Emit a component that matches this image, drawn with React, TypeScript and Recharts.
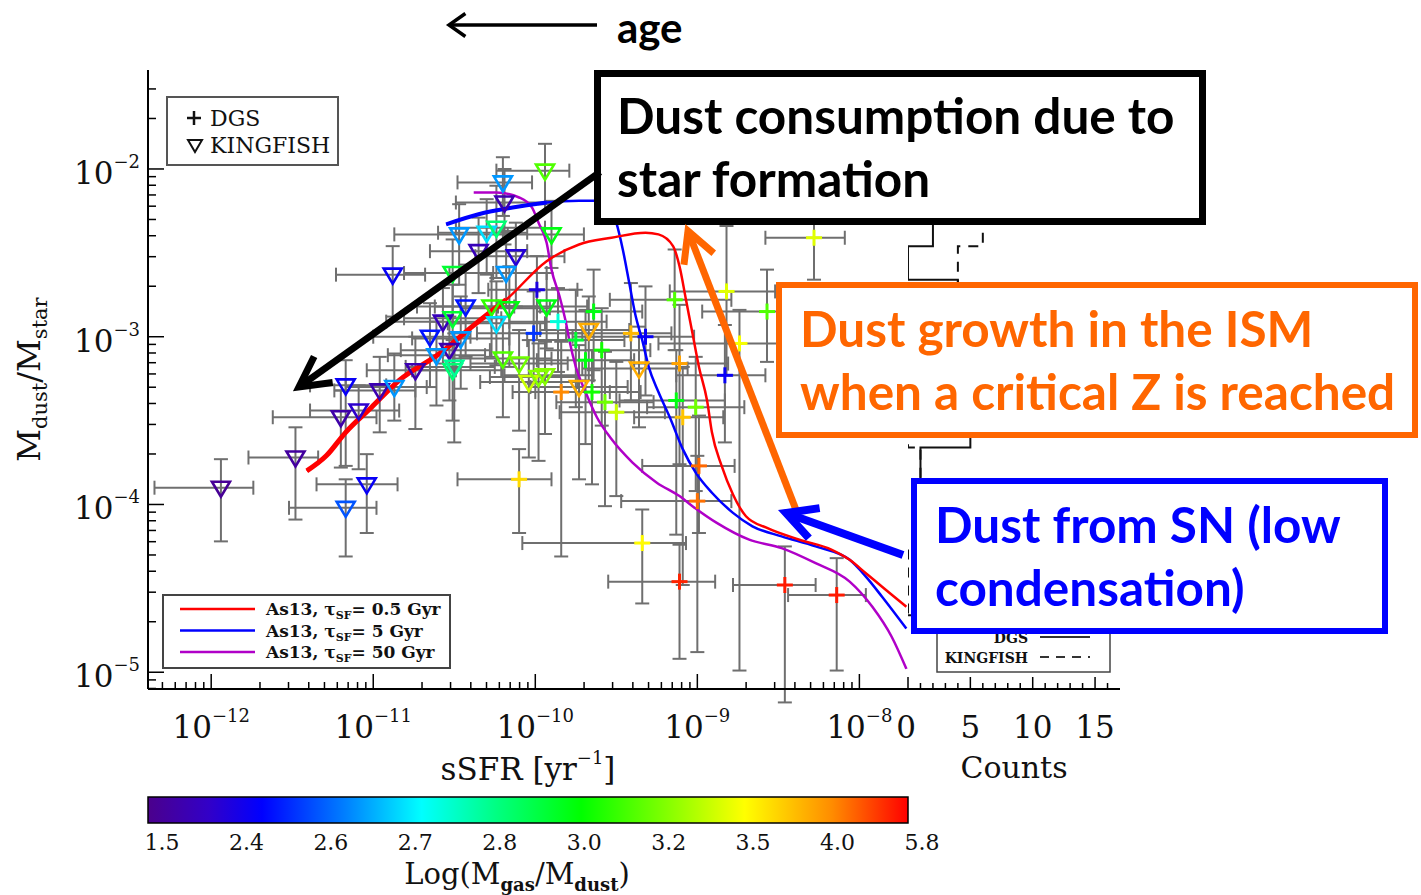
import React from 'react';
import { ComposedChart, Scatter, Line, XAxis, YAxis, ErrorBar, ReferenceArea } from 'recharts';

// axes are in log10 units: x = log sSFR [yr^-1], y = log Mdust/Mstar
const X_DOMAIN: [number, number] = [-12.39, -7.7];
const Y_DOMAIN: [number, number] = [-5.1, -1.41];

// [log sSFR, log Mdust/Mstar, log Mgas/Mdust, -dx, +dx, -dy, +dy]
const KINGFISH = [
  [-11.94, -3.9, 1.6, 0.41, 0.2, 0.32, 0.17],
  [-11.48, -3.72, 1.7, 0.29, 0.14, 0.37, 0.18],
  [-11.2, -3.48, 1.8, 0.42, 0.22, 0.3, 0.16],
  [-11.09, -3.44, 2.2, 0.3, 0.25, 0.35, 0.15],
  [-11.17, -3.29, 2.45, 0.22, 0.25, 0.48, 0.15],
  [-10.96, -3.32, 1.9, 0.28, 0.22, 0.25, 0.2],
  [-10.87, -3.3, 2.65, 0.3, 0.2, 0.2, 0.2],
  [-11.04, -3.88, 2.45, 0.31, 0.19, 0.29, 0.18],
  [-11.17, -4.02, 2.6, 0.35, 0.19, 0.29, 0.17],
  [-10.74, -3.2, 1.9, 0.3, 0.25, 0.35, 0.2],
  [-10.51, -3.2, 2.85, 0.25, 0.3, 0.3, 0.18],
  [-10.2, -2.08, 2.65, 0.28, 0.18, 0.2, 0.15],
  [-9.94, -2.01, 3.15, 0.3, 0.15, 0.2, 0.16],
  [-10.47, -2.39, 2.65, 0.4, 0.3, 0.3, 0.18],
  [-10.3, -2.38, 2.7, 0.3, 0.25, 0.25, 0.2],
  [-10.24, -2.35, 2.85, 0.25, 0.3, 0.3, 0.25],
  [-9.9, -2.39, 3.0, 0.3, 0.2, 0.2, 0.2],
  [-10.88, -2.63, 2.45, 0.35, 0.2, 0.25, 0.17],
  [-10.35, -2.49, 2.0, 0.3, 0.3, 0.25, 0.2],
  [-10.12, -2.52, 2.3, 0.25, 0.3, 0.3, 0.2],
  [-10.18, -2.62, 2.65, 0.35, 0.25, 0.2, 0.25],
  [-10.51, -2.62, 2.95, 0.3, 0.25, 0.3, 0.2],
  [-9.93, -2.82, 3.0, 0.3, 0.25, 0.25, 0.2],
  [-10.27, -2.82, 3.1, 0.35, 0.3, 0.3, 0.2],
  [-10.16, -2.83, 3.0, 0.3, 0.25, 0.35, 0.25],
  [-9.67, -2.96, 3.9, 0.3, 0.25, 0.3, 0.2],
  [-10.57, -2.91, 2.0, 0.35, 0.3, 0.25, 0.2],
  [-10.51, -2.89, 2.95, 0.3, 0.3, 0.3, 0.2],
  [-10.43, -2.82, 2.5, 0.3, 0.3, 0.3, 0.25],
  [-10.65, -3.0, 2.5, 0.35, 0.25, 0.3, 0.2],
  [-10.46, -3.01, 2.65, 0.3, 0.3, 0.3, 0.25],
  [-10.24, -2.92, 2.7, 0.3, 0.3, 0.25, 0.25],
  [-10.53, -3.08, 1.9, 0.3, 0.25, 0.3, 0.2],
  [-10.5, -3.18, 2.8, 0.3, 0.25, 0.45, 0.2],
  [-10.61, -3.11, 2.65, 0.3, 0.3, 0.3, 0.2],
  [-10.2, -3.13, 3.15, 0.3, 0.3, 0.35, 0.25],
  [-10.1, -3.16, 3.2, 0.3, 0.3, 0.4, 0.2],
  [-10.04, -3.27, 3.4, 0.3, 0.3, 0.45, 0.25],
  [-9.98, -3.24, 3.25, 0.3, 0.25, 0.5, 0.2],
  [-9.94, -3.23, 3.25, 0.25, 0.3, 0.35, 0.2],
  [-9.73, -3.3, 3.9, 0.3, 0.3, 0.55, 0.25],
  [-9.36, -3.19, 3.9, 0.35, 0.3, 0.35, 0.25],
  [-10.19, -2.2, 1.9, 0.3, 0.25, 0.25, 0.2],
];

const DGS = [
  [-9.99, -2.72, 2.4, 0.3, 0.25, 0.3, 0.2],
  [-10.01, -2.98, 2.55, 0.35, 0.3, 0.3, 0.25],
  [-9.86, -2.91, 2.75, 0.3, 0.3, 0.3, 0.2],
  [-9.64, -2.85, 3.0, 0.35, 0.3, 0.35, 0.25],
  [-9.75, -3.02, 2.95, 0.3, 0.3, 0.4, 0.3],
  [-9.59, -3.08, 3.05, 0.35, 0.3, 0.45, 0.25],
  [-9.69, -3.14, 3.0, 0.3, 0.3, 0.5, 0.3],
  [-9.41, -2.98, 3.85, 0.4, 0.25, 0.4, 0.3],
  [-9.32, -3.0, 2.45, 0.45, 0.3, 0.35, 0.3],
  [-9.11, -3.16, 3.95, 0.3, 0.3, 0.6, 0.35],
  [-9.14, -2.78, 3.15, 0.4, 0.35, 0.3, 0.3],
  [-8.82, -2.73, 3.45, 0.35, 0.3, 0.5, 0.39],
  [-8.28, -2.41, 3.45, 0.3, 0.19, 0.25, 0.15],
  [-8.57, -2.85, 3.15, 0.4, 0.3, 0.3, 0.25],
  [-8.74, -3.04, 3.5, 0.5, 0.35, 1.95, 0.2],
  [-8.83, -3.23, 2.45, 0.3, 0.25, 0.4, 0.3],
  [-9.13, -3.38, 3.0, 0.35, 0.3, 0.8, 0.3],
  [-9.01, -3.42, 3.2, 0.3, 0.3, 0.5, 0.3],
  [-9.09, -3.48, 3.8, 0.3, 0.25, 1.0, 0.3],
  [-9.84, -3.33, 4.2, 0.3, 0.3, 0.98, 0.3],
  [-9.65, -3.33, 3.05, 0.35, 0.3, 0.55, 0.25],
  [-9.57, -3.39, 3.2, 0.3, 0.3, 0.62, 0.3],
  [-9.5, -3.45, 3.4, 0.35, 0.3, 0.5, 0.3],
  [-10.1, -3.85, 3.7, 0.38, 0.2, 0.32, 0.18],
  [-8.99, -3.77, 4.6, 0.35, 0.22, 0.4, 0.3],
  [-9.0, -3.98, 4.5, 0.47, 0.21, 0.9, 0.27],
  [-9.34, -4.23, 3.55, 0.74, 0.27, 0.36, 0.2],
  [-9.11, -4.46, 5.4, 0.44, 0.22, 0.46, 0.22],
  [-8.46, -4.48, 5.5, 0.32, 0.19, 0.7, 0.23],
  [-8.14, -4.54, 5.5, 0.3, 0.18, 0.45, 0.22],
];

// As13 chemical evolution tracks, [log sSFR, log Mdust/Mstar]
const TRACK_05 = [
  [-11.41, -3.8], [-11.29, -3.71], [-11.17, -3.57], [-11.01, -3.42], [-10.84, -3.26],
  [-10.59, -3.1], [-10.39, -2.94], [-10.18, -2.78], [-9.93, -2.55], [-9.73, -2.45],
  [-9.53, -2.41], [-9.32, -2.38], [-9.24, -2.39], [-9.15, -2.46], [-9.11, -2.58],
  [-9.07, -2.78], [-9.03, -2.98], [-8.99, -3.18], [-8.94, -3.38], [-8.91, -3.57],
  [-8.85, -3.77], [-8.78, -3.94], [-8.7, -4.07], [-8.57, -4.14], [-8.37, -4.21],
  [-8.17, -4.27], [-8.06, -4.33], [-7.96, -4.41], [-7.86, -4.49], [-7.71, -4.61],
];
const TRACK_5 = [
  [-10.55, -2.33], [-10.35, -2.27], [-10.14, -2.23], [-9.93, -2.2], [-9.73, -2.19],
  [-9.61, -2.19], [-9.53, -2.24], [-9.5, -2.32], [-9.46, -2.48], [-9.42, -2.68],
  [-9.38, -2.88], [-9.34, -3.02], [-9.3, -3.18], [-9.24, -3.33], [-9.17, -3.48],
  [-9.09, -3.67], [-9.01, -3.81], [-8.91, -3.93], [-8.78, -4.05], [-8.66, -4.13],
  [-8.48, -4.19], [-8.27, -4.25], [-8.06, -4.33], [-7.96, -4.43], [-7.86, -4.55], [-7.71, -4.74],
];
const TRACK_50 = [
  [-10.38, -2.14], [-10.24, -2.14], [-10.1, -2.17], [-10.02, -2.23], [-9.98, -2.32],
  [-9.93, -2.44], [-9.9, -2.6], [-9.85, -2.76], [-9.81, -2.92], [-9.79, -3.02],
  [-9.75, -3.18], [-9.69, -3.33], [-9.62, -3.48], [-9.53, -3.61], [-9.4, -3.75],
  [-9.25, -3.87], [-9.11, -3.95], [-9.03, -4.01], [-8.88, -4.11], [-8.68, -4.21],
  [-8.48, -4.26], [-8.27, -4.35], [-8.06, -4.46], [-7.92, -4.61], [-7.8, -4.79], [-7.71, -4.98],
];

// colour bar: labelled Log(Mgas/Mdust) values at equal spacing
const GAS_TICKS = [1.5, 2.4, 2.6, 2.7, 2.8, 3.0, 3.2, 3.5, 4.0, 5.8];
const RAINBOW: [number, number[]][] = [
  [0, [75, 0, 140]], [0.08, [50, 0, 200]], [0.15, [0, 0, 255]], [0.26, [0, 128, 255]],
  [0.36, [0, 255, 255]], [0.46, [0, 255, 128]], [0.57, [0, 255, 0]], [0.68, [128, 255, 0]],
  [0.785, [255, 255, 0]], [0.9, [255, 140, 0]], [1, [255, 0, 0]],
];

// histogram of log Mdust/Mstar, bins of 0.2 dex starting at the top edge
const HIST_TOP = -1.86;
const HIST_BIN = 0.2;
const DGS_COUNTS = [0, 0, 2, 0, 4, 7, 6, 8, 5, 1, 3, 1, 1, 2];
const KF_COUNTS = [2, 5, 6, 4, 4, 12, 10, 6, 0, 1, 3, 1, 0, 0];

const MODELS = [
  { tau: '0.5', color: '#ff0000' },
  { tau: '5', color: '#0000ff' },
  { tau: '50', color: '#b000c8' },
];

const SERIF = '"DejaVu Serif", serif';
const SANS = 'Lato, "Open Sans", sans-serif';
const ERR = '#6f6f6f';

const toPoints = (rows: number[][]) =>
  rows.map(([x, y, g, exLo, exHi, eyLo, eyHi]) => ({ x, y, g, ex: [exLo, exHi], ey: [eyLo, eyHi] }));
const toTrack = (rows: number[][]) => rows.map(([x, y]) => ({ x, y }));

const kfPts = toPoints(KINGFISH);
const dgsPts = toPoints(DGS);
const track05 = toTrack(TRACK_05);
const track5 = toTrack(TRACK_5);
const track50 = toTrack(TRACK_50);

const stepPoints = (counts: number[]) => {
  const pts = [{ c: 0, y: HIST_TOP }];
  counts.forEach((c, i) => {
    const hi = HIST_TOP - i * HIST_BIN;
    pts.push({ c, y: hi }, { c, y: hi - HIST_BIN });
  });
  pts.push({ c: 0, y: HIST_TOP - counts.length * HIST_BIN });
  return pts;
};

const logTicks = ([lo, hi]: [number, number]) => {
  const out: number[] = [];
  for (let d = Math.floor(lo); d <= Math.ceil(hi); d++) {
    for (let k = 1; k <= 9; k++) {
      const v = d + Math.log10(k);
      if (v >= lo && v <= hi) out.push(v);
    }
  }
  return out;
};
const isMajor = (v: number) => Math.abs(v - Math.round(v)) < 1e-9;

const X_TICKS = logTicks(X_DOMAIN);
const Y_TICKS = logTicks(Y_DOMAIN);
const COUNT_TICKS = Array.from({ length: 17 }, (_, i) => i);

function gasColor(g: number) {
  let p = 0;
  for (let i = 0; i < GAS_TICKS.length - 1; i++) {
    if (g >= GAS_TICKS[i] && g <= GAS_TICKS[i + 1]) {
      p = i + (g - GAS_TICKS[i]) / (GAS_TICKS[i + 1] - GAS_TICKS[i]);
      break;
    }
    if (g > GAS_TICKS[i + 1]) p = i + 1;
  }
  const f = p / (GAS_TICKS.length - 1);
  for (let i = 0; i < RAINBOW.length - 1; i++) {
    const [f0, c0] = RAINBOW[i];
    const [f1, c1] = RAINBOW[i + 1];
    if (f <= f1) {
      const t = (f - f0) / (f1 - f0);
      const c = c0.map((v, k) => Math.round(v + (c1[k] - v) * t));
      return `rgb(${c.join(',')})`;
    }
  }
  return 'rgb(255,0,0)';
}

const rgb = (c: number[]) => `rgb(${c.join(',')})`;

// ---------- ticks ----------
const Pow = ({ x, y, v, anchor }: { x: number; y: number; v: number; anchor: string }) => (
  <text x={x} y={y} textAnchor={anchor} fontFamily={SERIF} fontSize={31} fill="#111">
    10
    <tspan dy={-16} fontSize={18}>{`\u2212${Math.abs(Math.round(v))}`}</tspan>
  </text>
);

const BottomLogTick = (props: any) => {
  const { x, y, payload } = props;
  const major = isMajor(payload.value);
  return (
    <g>
      <line x1={x} x2={x} y1={y} y2={y - (major ? 15 : 7)} stroke="#000" strokeWidth={1.5} />
      {major && <Pow x={x} y={y + 49} v={payload.value} anchor="middle" />}
    </g>
  );
};
const TopLogTick = (props: any) => {
  const { x, y, payload } = props;
  return <line x1={x} x2={x} y1={y} y2={y + (isMajor(payload.value) ? 15 : 7)} stroke="#000" strokeWidth={1.5} />;
};
const LeftLogTick = (props: any) => {
  const { x, y, payload } = props;
  const major = isMajor(payload.value);
  return (
    <g>
      <line x1={x} x2={x + (major ? 16 : 8)} y1={y} y2={y} stroke="#000" strokeWidth={1.5} />
      {major && <Pow x={x - 8} y={y + 15} v={payload.value} anchor="end" />}
    </g>
  );
};
const RightLogTick = (props: any) => {
  const { x, y, payload } = props;
  return <line x1={x} x2={x - (isMajor(payload.value) ? 16 : 8)} y1={y} y2={y} stroke="#000" strokeWidth={1.5} />;
};
const CountTick = (props: any) => {
  const { x, y, payload } = props;
  const major = payload.value % 5 === 0;
  return (
    <g>
      <line x1={x} x2={x} y1={y} y2={y - (major ? 12 : 6)} stroke="#000" strokeWidth={1.5} />
      {major && (
        <text x={payload.value === 0 ? x - 2 : x} y={y + 49} textAnchor="middle" fontFamily={SERIF} fontSize={31} fill="#111">
          {payload.value}
        </text>
      )}
    </g>
  );
};
const CountTopTick = (props: any) => {
  const { x, y, payload } = props;
  return <line x1={x} x2={x} y1={y} y2={y + (payload.value % 5 === 0 ? 12 : 6)} stroke="#000" strokeWidth={1.5} />;
};
const GasTick = (props: any) => {
  const { x, y, payload } = props;
  return (
    <text x={x + 14} y={y + 27} textAnchor="middle" fontFamily={SERIF} fontSize={22} fill="#111">
      {GAS_TICKS[payload.value].toFixed(1)}
    </text>
  );
};

// ---------- markers ----------
const Triangle = (props: any) => {
  const { cx, cy, payload } = props;
  if (cx == null || cy == null) return <g />;
  return (
    <polygon
      points={`${cx - 9},${cy - 6} ${cx + 9},${cy - 6} ${cx},${cy + 9}`}
      fill="none"
      stroke={gasColor(payload.g)}
      strokeWidth={2.6}
    />
  );
};
const Plus = (props: any) => {
  const { cx, cy, payload } = props;
  if (cx == null || cy == null) return <g />;
  const c = gasColor(payload.g);
  return (
    <g stroke={c} strokeWidth={3}>
      <line x1={cx - 8} x2={cx + 8} y1={cy} y2={cy} />
      <line x1={cx} x2={cx} y1={cy - 8} y2={cy + 8} />
    </g>
  );
};
const NoMarker = () => <g />;

const axisLine = { stroke: '#000', strokeWidth: 2 };

function MainPanel() {
  return (
    <ComposedChart width={920} height={800} margin={{ top: 70, right: 12, bottom: 0, left: 0 }}>
      <XAxis
        xAxisId="b" type="number" dataKey="x" domain={X_DOMAIN} allowDataOverflow ticks={X_TICKS}
        interval={0} tickLine={false} tickSize={0} tickMargin={0} tick={BottomLogTick} height={111}
        axisLine={axisLine}
        label={(p: any) => {
          const vb = p.viewBox;
          return (
            <text x={vb.x + vb.width / 2} y={vb.y + 91} textAnchor="middle" fontFamily={SERIF} fontSize={31} fill="#111">
              sSFR [yr<tspan dy={-16} fontSize={18}>{'\u22121'}</tspan><tspan dy={16}>]</tspan>
            </text>
          );
        }}
      />
      <XAxis
        xAxisId="t" orientation="top" type="number" domain={X_DOMAIN} allowDataOverflow ticks={X_TICKS}
        interval={0} tickLine={false} tickSize={0} tickMargin={0} tick={TopLogTick} height={0} axisLine={axisLine}
      />
      <YAxis
        yAxisId="l" type="number" dataKey="y" domain={Y_DOMAIN} allowDataOverflow ticks={Y_TICKS}
        interval={0} tickLine={false} tickSize={0} tickMargin={0} tick={LeftLogTick} width={148} axisLine={axisLine}
        label={(p: any) => {
          const vb = p.viewBox;
          const cx = 40;
          const cy = vb.y + vb.height / 2;
          return (
            <text x={cx} y={cy} transform={`rotate(-90 ${cx} ${cy})`} textAnchor="middle" fontFamily={SERIF} fontSize={32} fill="#111">
              M<tspan dy={7} fontSize={21}>dust</tspan><tspan dy={-7}>/M</tspan><tspan dy={7} fontSize={21}>star</tspan>
            </text>
          );
        }}
      />
      <YAxis
        yAxisId="r" orientation="right" type="number" domain={Y_DOMAIN} allowDataOverflow ticks={Y_TICKS}
        interval={0} tickLine={false} tickSize={0} tickMargin={0} tick={RightLogTick} width={0} axisLine={axisLine}
      />

      {/* error bars first so every marker sits on top of the grey mesh */}
      <Scatter name="KINGFISH errors" data={kfPts} xAxisId="b" yAxisId="l" shape={NoMarker} isAnimationActive={false}>
        <ErrorBar dataKey="ex" direction="x" width={7} stroke={ERR} strokeWidth={2} />
        <ErrorBar dataKey="ey" direction="y" width={7} stroke={ERR} strokeWidth={2} />
      </Scatter>
      <Scatter name="DGS errors" data={dgsPts} xAxisId="b" yAxisId="l" shape={NoMarker} isAnimationActive={false}>
        <ErrorBar dataKey="ex" direction="x" width={7} stroke={ERR} strokeWidth={2} />
        <ErrorBar dataKey="ey" direction="y" width={7} stroke={ERR} strokeWidth={2} />
      </Scatter>
      <Scatter name="KINGFISH" data={kfPts} xAxisId="b" yAxisId="l" shape={Triangle} isAnimationActive={false} />
      <Scatter name="DGS" data={dgsPts} xAxisId="b" yAxisId="l" shape={Plus} isAnimationActive={false} />

      <Line data={track50} dataKey="y" xAxisId="b" yAxisId="l" type="monotone" stroke={MODELS[2].color} strokeWidth={2.5} dot={false} isAnimationActive={false} />
      <Line data={track5} dataKey="y" xAxisId="b" yAxisId="l" type="monotone" stroke={MODELS[1].color} strokeWidth={2.5} dot={false} isAnimationActive={false} />
      <Line data={track5.filter((p) => p.x <= -9.9)} dataKey="y" xAxisId="b" yAxisId="l" type="monotone" stroke={MODELS[1].color} strokeWidth={4} dot={false} isAnimationActive={false} />
      <Line data={track05} dataKey="y" xAxisId="b" yAxisId="l" type="monotone" stroke={MODELS[0].color} strokeWidth={2.5} dot={false} isAnimationActive={false} />
      <Line data={track05.filter((p) => p.x <= -10.18)} dataKey="y" xAxisId="b" yAxisId="l" type="monotone" stroke={MODELS[0].color} strokeWidth={5} dot={false} isAnimationActive={false} />
    </ComposedChart>
  );
}

function HistPanel() {
  return (
    <ComposedChart width={280} height={800} margin={{ top: 70, right: 20, bottom: 0, left: 48 }}>
      <XAxis
        xAxisId="b" type="number" dataKey="c" domain={[0, 17]} allowDataOverflow ticks={COUNT_TICKS}
        interval={0} tickLine={false} tickSize={0} tickMargin={0} tick={CountTick} height={111} axisLine={axisLine}
        label={(p: any) => {
          const vb = p.viewBox;
          return (
            <text x={vb.x + vb.width / 2} y={vb.y + 89} textAnchor="middle" fontFamily={SERIF} fontSize={30} fill="#111">
              Counts
            </text>
          );
        }}
      />
      <XAxis
        xAxisId="t" orientation="top" type="number" domain={[0, 17]} allowDataOverflow ticks={COUNT_TICKS}
        interval={0} tickLine={false} tickSize={0} tickMargin={0} tick={CountTopTick} height={0} axisLine={axisLine}
      />
      <YAxis yAxisId="l" type="number" dataKey="y" domain={Y_DOMAIN} allowDataOverflow hide />
      <YAxis
        yAxisId="r" orientation="right" type="number" domain={Y_DOMAIN} allowDataOverflow ticks={Y_TICKS}
        interval={0} tickLine={false} tickSize={0} tickMargin={0} tick={RightLogTick} width={0} axisLine={axisLine}
      />
      <Line data={stepPoints(KF_COUNTS)} dataKey="y" xAxisId="b" yAxisId="l" type="linear" stroke="#111" strokeWidth={2} strokeDasharray="10 8" dot={false} isAnimationActive={false} />
      <Line data={stepPoints(DGS_COUNTS)} dataKey="y" xAxisId="b" yAxisId="l" type="linear" stroke="#111" strokeWidth={2} dot={false} isAnimationActive={false} />
    </ComposedChart>
  );
}

function ColorBar() {
  const data = GAS_TICKS.map((g, i) => ({ pos: i, band: i % 2 }));
  return (
    <ComposedChart width={960} height={135} data={data} margin={{ top: 37, right: 52, bottom: 0, left: 148 }}>
      <XAxis
        type="number" dataKey="pos" domain={[0, 9]} allowDataOverflow ticks={GAS_TICKS.map((_, i) => i)} interval={0}
        tickLine={false} tickSize={0} tickMargin={0} axisLine={false} tick={GasTick} height={72}
        label={(p: any) => {
          const vb = p.viewBox;
          return (
            <text x={vb.x + vb.width / 2 - 11} y={vb.y + 61} textAnchor="middle" fontFamily={SERIF} fontSize={29} fill="#111">
              Log(M<tspan dy={7} fontSize={18} fontWeight="bold">gas</tspan>
              <tspan dy={-7}>/M</tspan>
              <tspan dy={7} fontSize={18} fontWeight="bold">dust</tspan>
              <tspan dy={-7}>)</tspan>
            </text>
          );
        }}
      />
      <YAxis type="number" dataKey="band" domain={[0, 1]} allowDataOverflow hide />
      <ReferenceArea x1={0} x2={9} y1={0} y2={1} ifOverflow="visible" fill="url(#gasRainbow)" fillOpacity={1} stroke="#000" strokeWidth={1.5} />
    </ComposedChart>
  );
}

// ---------- annotation layer ----------
function Arrow({ from, to, color, width, head = 34, spread = 28 }: any) {
  const [fx, fy] = from;
  const [tx, ty] = to;
  const ang = Math.atan2(fy - ty, fx - tx);
  const s = (spread * Math.PI) / 180;
  const p1 = [tx + head * Math.cos(ang + s), ty + head * Math.sin(ang + s)];
  const p2 = [tx + head * Math.cos(ang - s), ty + head * Math.sin(ang - s)];
  return (
    <g stroke={color} strokeWidth={width} fill="none">
      <line x1={fx} y1={fy} x2={tx} y2={ty} />
      <polyline points={`${p1[0]},${p1[1]} ${tx},${ty} ${p2[0]},${p2[1]}`} strokeLinejoin="miter" />
    </g>
  );
}

function NoteBox({ x, y, w, h, color, lines, tx, base, sw = 6 }: any) {
  return (
    <g>
      <rect x={x} y={y} width={w} height={h} fill="#fff" stroke={color} strokeWidth={sw} />
      {lines.map((t: string, i: number) => (
        <text key={t} x={tx} y={base + i * 63} fontFamily={SANS} fontWeight={700} fontSize={49.5} fill={color}>
          {t}
        </text>
      ))}
    </g>
  );
}

function Annotations() {
  return (
    <svg width={1421} height={895} style={{ position: 'absolute', left: 0, top: 0 }}>
      {/* time direction */}
      <Arrow from={[597, 25]} to={[449, 25]} color="#000" width={3.5} head={20} spread={35} />
      <text x={617} y={43} fontFamily={SANS} fontWeight={700} fontSize={42} fill="#000">age</text>

      {/* sample legend */}
      <rect x={167} y={97} width={171} height={68} fill="#fff" stroke="#555" strokeWidth={2} />
      <g stroke="#111" strokeWidth={2.5}>
        <line x1={187} x2={201} y1={118} y2={118} />
        <line x1={194} x2={194} y1={111} y2={125} />
      </g>
      <polygon points="188,140 202,140 195,152" fill="none" stroke="#111" strokeWidth={2} />
      <text x={210} y={126} fontFamily={SERIF} fontSize={22} fill="#111">DGS</text>
      <text x={210} y={153} fontFamily={SERIF} fontSize={22} fill="#111">KINGFISH</text>

      {/* model legend */}
      <rect x={163} y={595} width={287} height={73} fill="#fff" stroke="#444" strokeWidth={2} />
      {MODELS.map((m, i) => {
        const y = 609 + i * 21.5;
        return (
          <g key={m.tau}>
            <line x1={180} x2={255} y1={y} y2={y} stroke={m.color} strokeWidth={2.5} />
            <text x={266} y={y + 6} fontFamily={SERIF} fontWeight="bold" fontSize={17} fill="#111">
              As13, τ<tspan dy={4} fontSize={11}>SF</tspan>
              <tspan dy={-4}>{`= ${m.tau} Gyr`}</tspan>
            </text>
          </g>
        );
      })}

      {/* histogram legend */}
      <rect x={937} y={600} width={173} height={72} fill="#fff" stroke="#444" strokeWidth={1.5} />
      <text x={1028} y={643} textAnchor="end" fontFamily={SERIF} fontWeight="bold" fontSize={14} fill="#111">DGS</text>
      <line x1={1040} x2={1090} y1={637} y2={637} stroke="#333" strokeWidth={2} />
      <text x={1028} y={663} textAnchor="end" fontFamily={SERIF} fontWeight="bold" fontSize={14} fill="#111">KINGFISH</text>
      <line x1={1040} x2={1090} y1={657} y2={657} stroke="#333" strokeWidth={2} strokeDasharray="9 7" />

      <NoteBox x={597.5} y={73.5} w={605} h={148} color="#000" sw={7} tx={617} base={134} lines={['Dust consumption due to', 'star formation']} />
      <Arrow from={[600, 172]} to={[299, 387]} color="#000" width={7} />

      <NoteBox x={779} y={285} w={636} h={150} color="#ff6600" tx={800} base={347} lines={['Dust growth in the ISM', 'when a critical Z is reached']} />
      <NoteBox x={914} y={481} w={471} h={150} color="#0000ff" tx={935} base={543} lines={['Dust from SN (low', 'condensation)']} />

      <Arrow from={[798, 515]} to={[688, 231]} color="#ff6600" width={7} />
      <Arrow from={[903, 555]} to={[786, 513]} color="#0000ff" width={8} />
    </svg>
  );
}

export default function App() {
  return (
    <div style={{ position: 'absolute', left: 0, top: 0, width: 1421, height: 895, background: '#fff', overflow: 'hidden' }}>
      <svg width={0} height={0} style={{ position: 'absolute' }}>
        <defs>
          <linearGradient id="gasRainbow" x1="0" y1="0" x2="1" y2="0">
            {RAINBOW.map(([f, c]) => (
              <stop key={f} offset={`${f * 100}%`} stopColor={rgb(c)} />
            ))}
          </linearGradient>
        </defs>
      </svg>
      <div style={{ position: 'absolute', left: 0, top: 0 }}>
        <MainPanel />
      </div>
      <div style={{ position: 'absolute', left: 860, top: 0 }}>
        <HistPanel />
      </div>
      <div style={{ position: 'absolute', left: 0, top: 760 }}>
        <ColorBar />
      </div>
      <Annotations />
    </div>
  );
}
